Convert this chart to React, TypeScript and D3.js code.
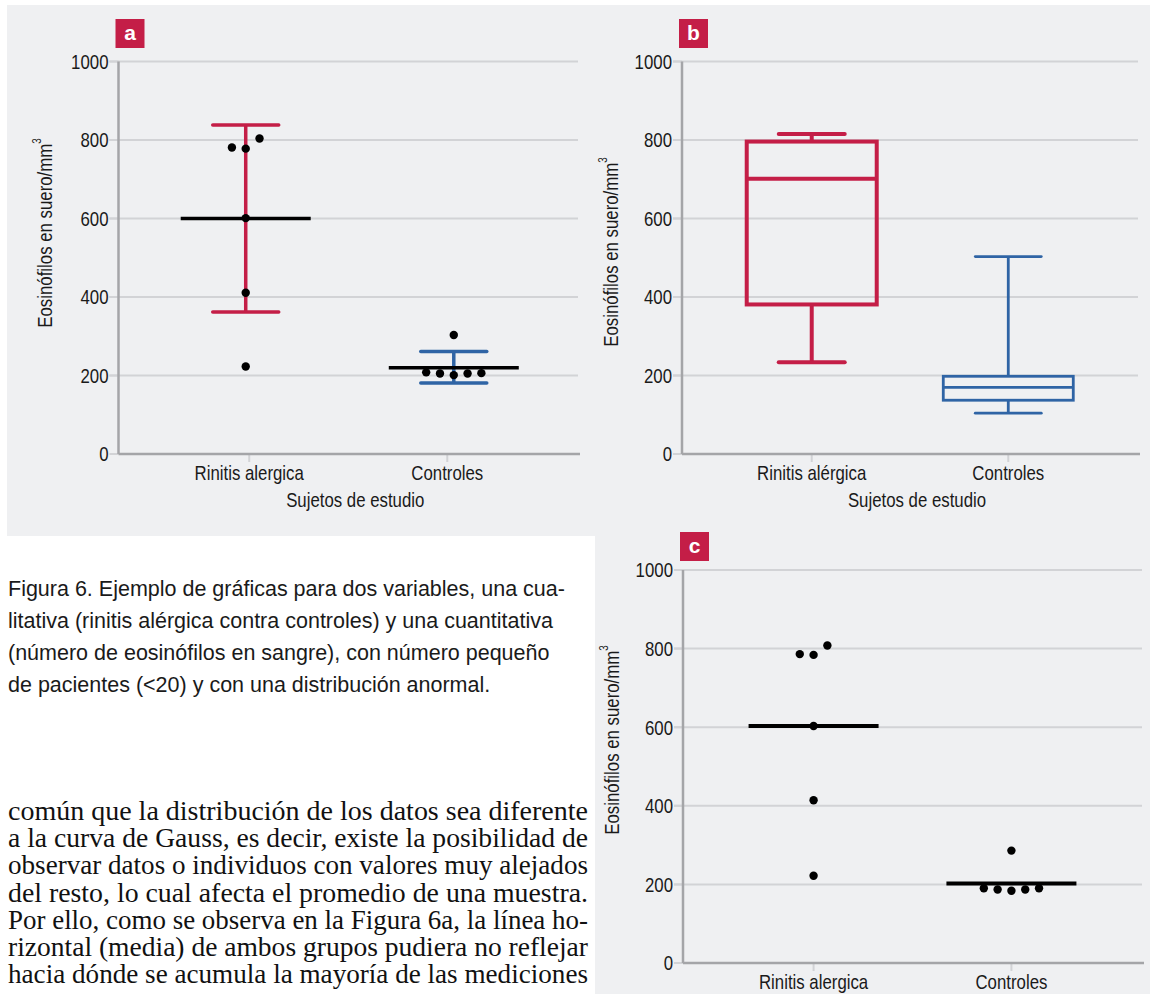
import * as d3 from "d3";

// ---- data ----
const catsA = ["Rinitis alergica", "Controles"];
const catsB = ["Rinitis alérgica", "Controles"];
const yTicks = [0, 200, 400, 600, 800, 1000];

// panel a: individual values, mean and error bars
const rinitisA = [781, 778, 804, 601, 411, 223];
const controlesA = [208, 205, 201, 205, 206, 303];
const meanA = [600, 220];
const errLowA = [362, 181];
const errHighA = [838, 261];

// panel b: box plots
const boxMin = [234, 104];
const boxQ1 = [381, 137];
const boxMedian = [701, 170];
const boxQ3 = [796, 198];
const boxMax = [815, 503];

// panel c: individual values and median
const rinitisC = [786, 784, 808, 603, 414, 222];
const controlesC = [190, 187, 184, 187, 190, 286];
const medianC = [603, 202];

// horizontal slot of each dot (dots with equal values sit side by side)
const slotsR = [-1, 0, 1, 0, 0, 0];
const slotsC = [-2, -1, 0, 1, 2, 0];

const captionLines = [
  "Figura 6. Ejemplo de gráficas para dos variables, una cua-",
  "litativa (rinitis alérgica contra controles) y una cuantitativa",
  "(número de eosinófilos en sangre), con número pequeño",
  "de pacientes (<20) y con una distribución anormal.",
];
const bodyLines = [
  "común que la distribución de los datos sea diferente",
  "a la curva de Gauss, es decir, existe la posibilidad de",
  "observar datos o individuos con valores muy alejados",
  "del resto, lo cual afecta el promedio de una muestra.",
  "Por ello, como se observa en la Figura 6a, la línea ho-",
  "rizontal (media) de ambos grupos pudiera no reflejar",
  "hacia dónde se acumula la mayoría de las mediciones",
];

const RED = "#c41e47";
const BLUE = "#2f64a5";
const BG = "#eff0f2";
const GRID = "#d2d3d6";
const AXIS = "#a4a5a8";
const SANS = "'Liberation Sans', Arial, sans-serif";
const SERIF = "'Liberation Serif', 'Times New Roman', serif";

// Arial-Narrow look: Liberation Sans squeezed horizontally
const NText = ({ x, y, anchor = "start", rotate = 0, size = 20.5, dy, children }: any) => (
  <text
    transform={`translate(${x},${y}) rotate(${rotate}) scale(0.82,1)`}
    textAnchor={anchor}
    dy={dy}
    fontFamily={SANS}
    fontSize={size}
    fill="#1a1a1a"
  >
    {children}
  </text>
);

type PanelProps = {
  x0: number;
  x1: number;
  yTop: number;
  yBottom: number;
  cats: string[];
  letter: string;
  labelY: number;
  titleY: number;
  titleX: number;
  xTitle?: boolean;
  children: (x: d3.ScalePoint<string>, y: d3.ScaleLinear<number, number>) => any;
};

const Panel = ({ x0, x1, yTop, yBottom, cats, letter, labelY, titleY, titleX, xTitle, children }: PanelProps) => {
  const x = d3.scalePoint<string>().domain(cats).range([x0, x1]).padding(0.66);
  const y = d3.scaleLinear().domain([0, 1000]).range([yBottom, yTop]);
  return (
    <g>
      {yTicks.map((t) => (
        <g key={t}>
          {t > 0 && <line x1={x0 - 9} x2={x1} y1={y(t)} y2={y(t)} stroke={GRID} strokeWidth={2} />}
          <line x1={x0 - 9} x2={x0} y1={y(t)} y2={y(t)} stroke={GRID} strokeWidth={2} />
          <NText x={x0 - 10} y={y(t)} dy="0.36em" anchor="end">
            {t}
          </NText>
        </g>
      ))}
      {cats.map((c) => (
        <g key={c}>
          <line x1={x(c)} x2={x(c)} y1={yBottom} y2={yBottom + 8} stroke={GRID} strokeWidth={2} />
          <NText x={x(c)} y={yBottom + 26} anchor="middle">
            {c}
          </NText>
        </g>
      ))}
      <line x1={x0} x2={x0} y1={yTop} y2={yBottom} stroke={AXIS} strokeWidth={2.5} />
      <line x1={x0} x2={x1 + 2} y1={yBottom} y2={yBottom} stroke={AXIS} strokeWidth={2.5} />
      {xTitle && (
        <NText x={(x0 + x1) / 2 + 7} y={yBottom + 53} anchor="middle">
          Sujetos de estudio
        </NText>
      )}
      <NText x={titleX} y={titleY} rotate={-90} anchor="middle">
        Eosinófilos en suero/mm
        <tspan fontSize={12} dy="-0.9em">3</tspan>
      </NText>
      <rect x={x0 - 3} y={labelY} width={29} height={29} fill={RED} />
      <text x={x0 + 11.5} y={labelY + 21} textAnchor="middle" fontFamily={SANS} fontWeight="bold" fontSize={21} fill="#fff">
        {letter}
      </text>
      {children(x, y)}
    </g>
  );
};

const Dots = ({ cx, values, slots, y }: { cx: number; values: number[]; slots: number[]; y: d3.ScaleLinear<number, number> }) => (
  <g>
    {values.map((v, i) => (
      <circle key={i} cx={cx + slots[i] * 13.8} cy={y(v)} r={4.2} fill="#000" />
    ))}
  </g>
);

export default function App() {
  const nudgeA = [-3.5, 6.5];
  const colors = [RED, BLUE];
  return (
    <svg width={1150} height={994} style={{ position: "absolute", left: 0, top: 0 }}>
      <rect x={0} y={0} width={1150} height={994} fill="#fff" />
      <rect x={7} y={5} width={1143} height={531} fill={BG} />
      <rect x={595} y={536} width={555} height={458} fill={BG} />

      {/* panel a */}
      <Panel x0={118.5} x1={578} yTop={61.5} yBottom={454} cats={catsA} letter="a" labelY={19} titleX={52} titleY={233} xTitle>
        {(x, y) => (
          <g>
            {catsA.map((c, i) => {
              const cx = (x(c) as number) + nudgeA[i];
              return (
                <g key={c} stroke={colors[i]} strokeWidth={3.5}>
                  <line x1={cx} x2={cx} y1={y(errHighA[i])} y2={y(errLowA[i])} />
                  <line x1={cx - 33} x2={cx + 33} y1={y(errHighA[i])} y2={y(errHighA[i])} strokeLinecap="round" />
                  <line x1={cx - 33} x2={cx + 33} y1={y(errLowA[i])} y2={y(errLowA[i])} strokeLinecap="round" />
                  <line x1={cx - 65} x2={cx + 65} y1={y(meanA[i])} y2={y(meanA[i])} stroke="#000" />
                </g>
              );
            })}
            <Dots cx={(x(catsA[0]) as number) + nudgeA[0]} values={rinitisA} slots={slotsR} y={y} />
            <Dots cx={(x(catsA[1]) as number) + nudgeA[1]} values={controlesA} slots={slotsC} y={y} />
          </g>
        )}
      </Panel>

      {/* panel b */}
      <Panel x0={682} x1={1138} yTop={61.5} yBottom={454} cats={catsB} letter="b" labelY={19} titleX={618} titleY={252} xTitle>
        {(x, y) => (
          <g fill="none">
            {catsB.map((c, i) => {
              const cx = x(c) as number;
              const sw = i === 0 ? 4 : 2.8;
              return (
                <g key={c} stroke={colors[i]} strokeWidth={sw}>
                  <line x1={cx} x2={cx} y1={y(boxMax[i])} y2={y(boxQ3[i])} />
                  <line x1={cx} x2={cx} y1={y(boxQ1[i])} y2={y(boxMin[i])} />
                  <line x1={cx - 33} x2={cx + 33} y1={y(boxMax[i])} y2={y(boxMax[i])} strokeLinecap="round" />
                  <line x1={cx - 33} x2={cx + 33} y1={y(boxMin[i])} y2={y(boxMin[i])} strokeLinecap="round" />
                  <rect x={cx - 65} width={130} y={y(boxQ3[i])} height={y(boxQ1[i]) - y(boxQ3[i])} />
                  <line x1={cx - 65} x2={cx + 65} y1={y(boxMedian[i])} y2={y(boxMedian[i])} />
                </g>
              );
            })}
          </g>
        )}
      </Panel>

      {/* panel c */}
      <Panel x0={683} x1={1142} yTop={570} yBottom={963} cats={catsA} letter="c" labelY={532} titleX={619} titleY={740}>
        {(x, y) => (
          <g>
            {catsA.map((c, i) => {
              const cx = x(c) as number;
              return <line key={c} x1={cx - 65} x2={cx + 65} y1={y(medianC[i])} y2={y(medianC[i])} stroke="#000" strokeWidth={4} />;
            })}
            <Dots cx={x(catsA[0]) as number} values={rinitisC} slots={slotsR} y={y} />
            <Dots cx={x(catsA[1]) as number} values={controlesC} slots={slotsC} y={y} />
          </g>
        )}
      </Panel>

      {/* caption */}
      {captionLines.map((l, i) => (
        <text key={i} x={8} y={596 + i * 32} fontFamily={SANS} fontSize={21.5} fill="#1a1a1a">
          {l}
        </text>
      ))}

      {/* body text */}
      {bodyLines.map((l, i) => (
        <text
          key={i}
          x={8}
          y={820 + i * 27.2}
          fontFamily={SERIF}
          fontSize={27}
          fill="#111"
          textLength={580}
          lengthAdjust="spacingAndGlyphs"
        >
          {l}
        </text>
      ))}
    </svg>
  );
}
